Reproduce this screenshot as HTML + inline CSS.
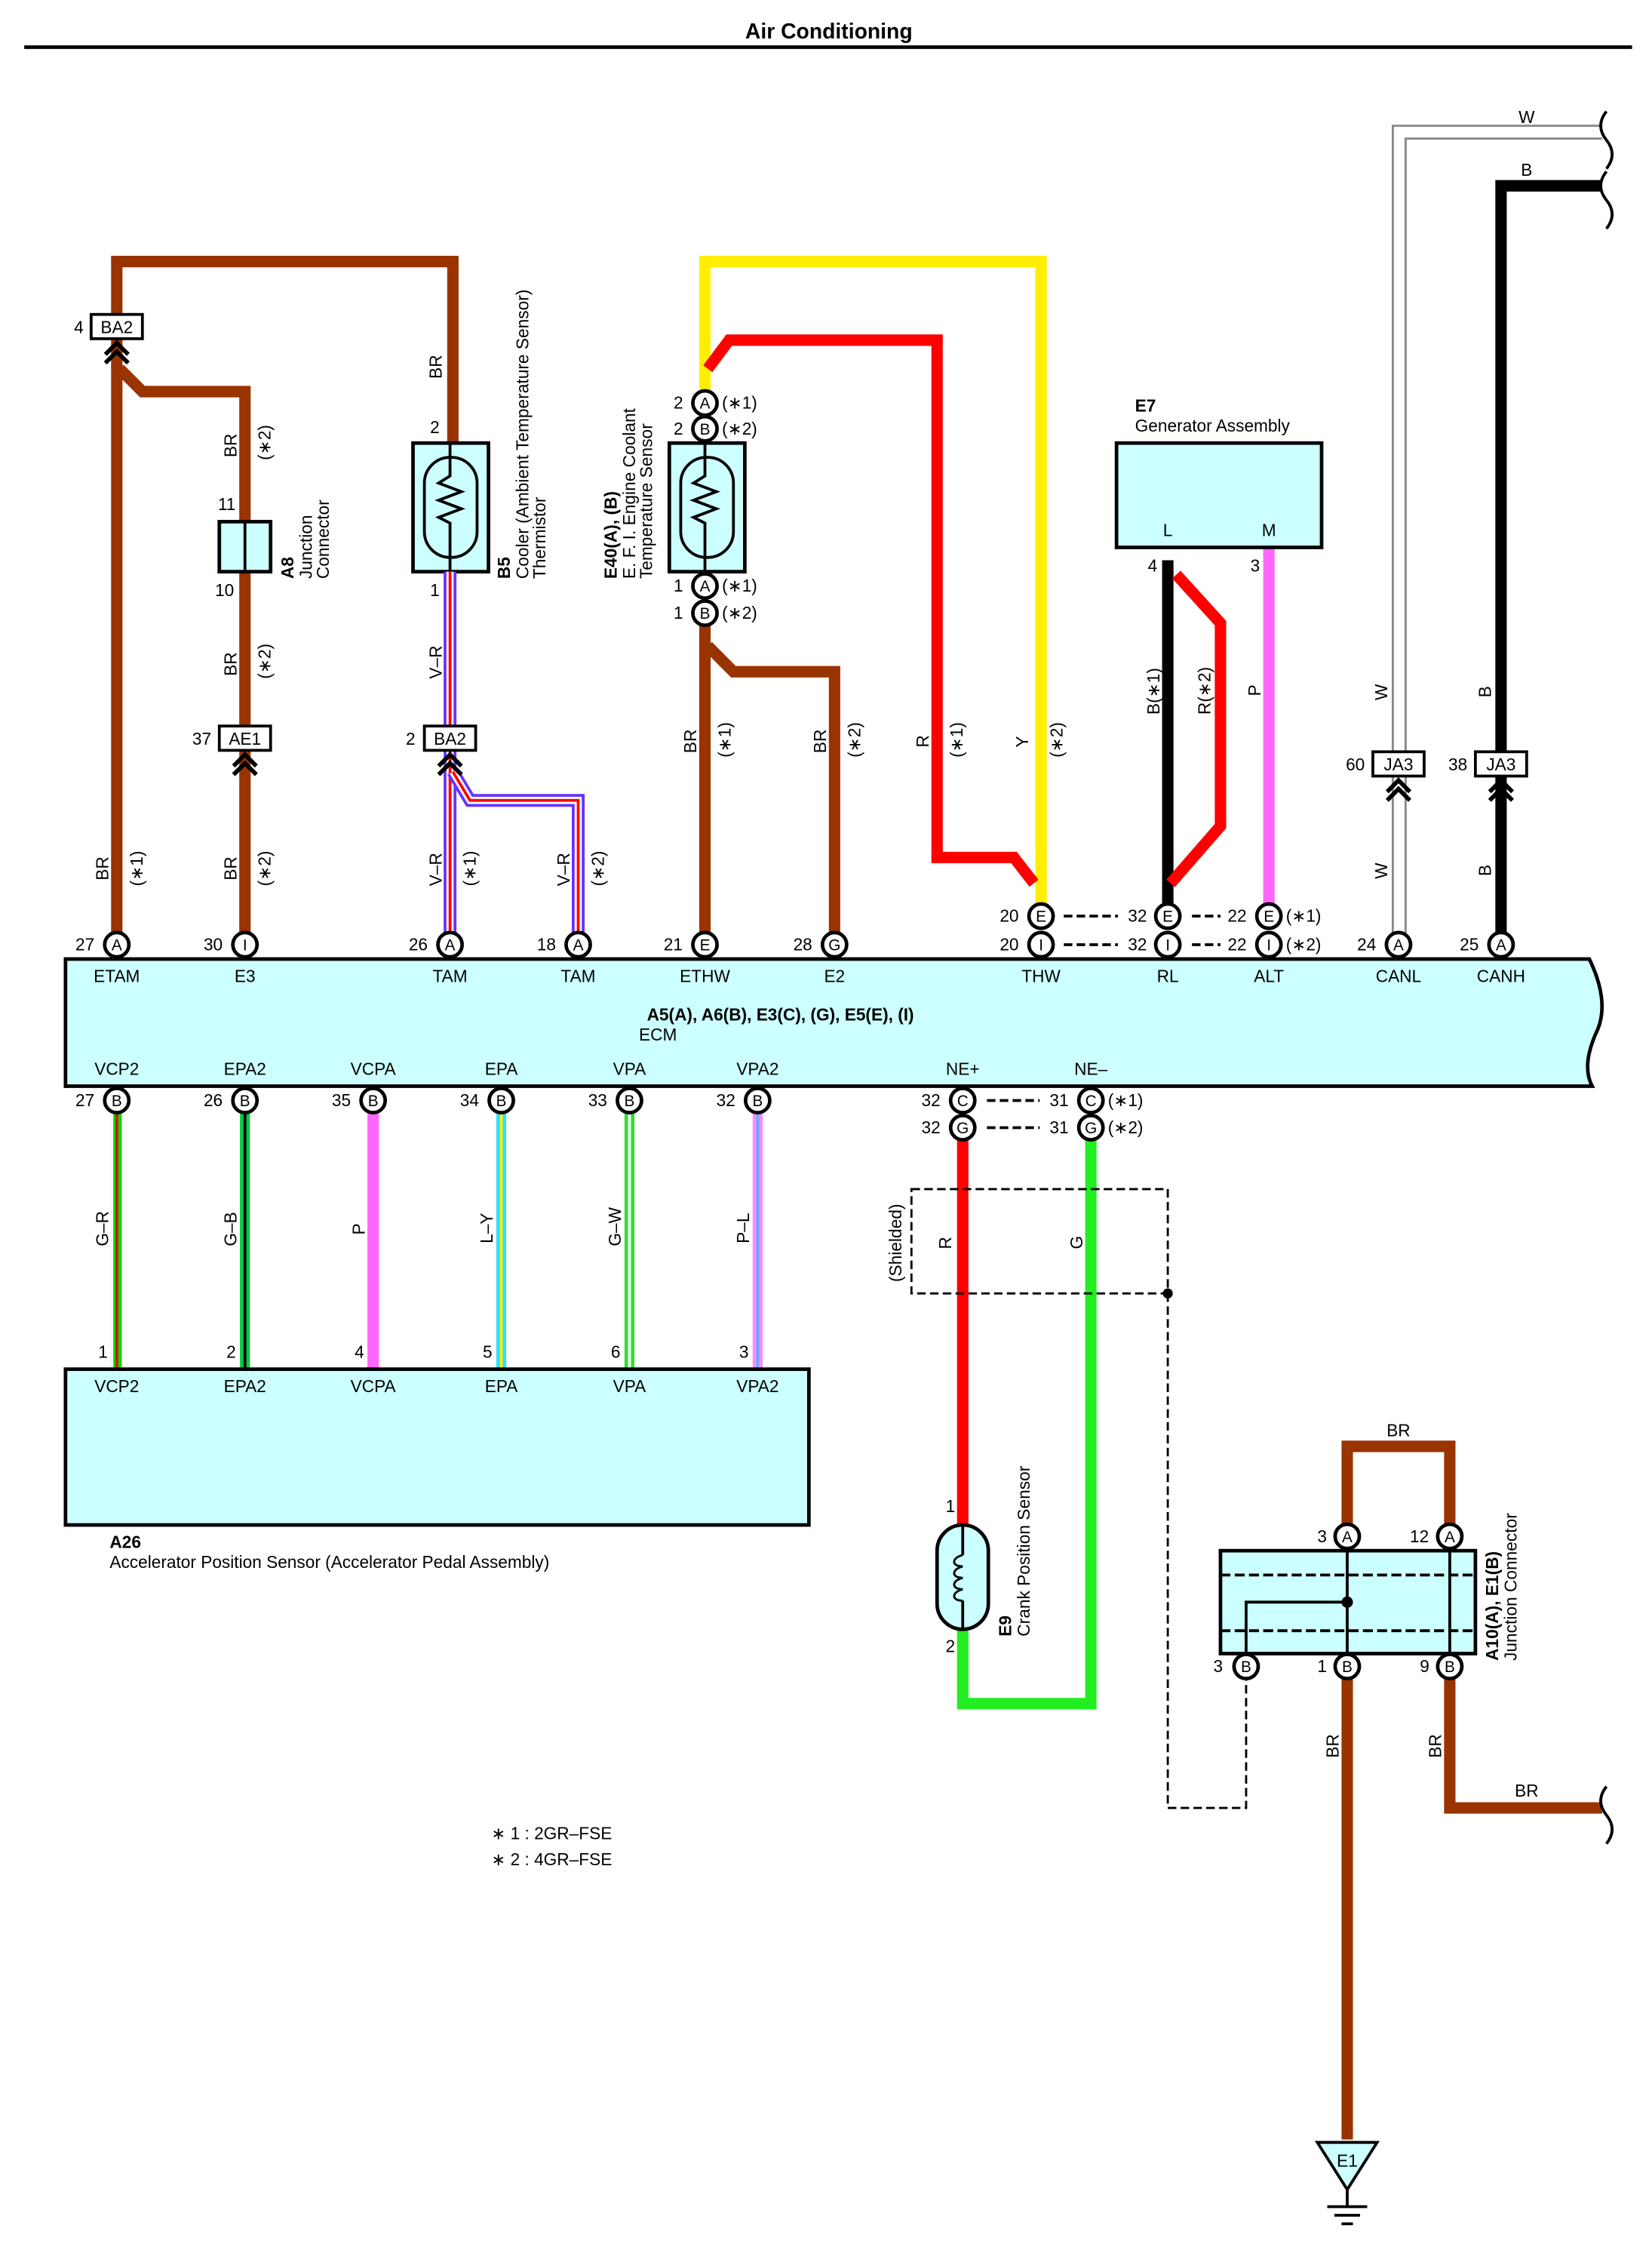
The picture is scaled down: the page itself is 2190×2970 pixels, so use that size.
<!DOCTYPE html>
<html><head><meta charset="utf-8"><style>
html,body{margin:0;padding:0;background:#fff}
svg{display:block}
text{font-family:"Liberation Sans",sans-serif;font-size:12px;fill:#000}
.b{font-weight:bold}
.pc{fill:#fff;stroke:#000;stroke-width:2.5}
.pl{font-size:11px;text-anchor:middle}
.box{fill:#ccffff;stroke:#000;stroke-width:2.5}
.br{stroke:#993300;stroke-width:8;fill:none;stroke-linejoin:miter}
</style></head><body>
<svg width="2190" height="2970" viewBox="0 0 1160 1568" preserveAspectRatio="none" xmlns="http://www.w3.org/2000/svg">
<defs>
<g id="pA"><circle r="8.5" class="pc"/><text y="4" class="pl">A</text></g>
<g id="pB"><circle r="8.5" class="pc"/><text y="4" class="pl">B</text></g>
<g id="pC"><circle r="8.5" class="pc"/><text y="4" class="pl">C</text></g>
<g id="pE"><circle r="8.5" class="pc"/><text y="4" class="pl">E</text></g>
<g id="pG"><circle r="8.5" class="pc"/><text y="4" class="pl">G</text></g>
<g id="pI"><circle r="8.5" class="pc"/><text y="4" class="pl">I</text></g>
<g id="chev"><path d="M-8,8 L0,0 L8,8 M-8,14 L0,6 L8,14" stroke="#000" stroke-width="3" fill="none"/></g>
</defs>
<text x="582" y="27" class="b" text-anchor="middle" font-size="15" style="font-size:15px">Air Conditioning</text>
<line x1="17" y1="33" x2="1146" y2="33" stroke="#000" stroke-width="2.5"/>

<!-- ETAM / B5 brown -->
<path class="br" d="M82,661 V183 H318 V310"/>
<path class="br" d="M84,258 L100,274 H172 V364"/>
<path class="br" d="M172,400 V661"/>
<!-- A8 -->
<rect x="154" y="365" width="36" height="35" class="box"/><line x1="172" y1="365" x2="172" y2="400" stroke="#000" stroke-width="2"/>
<text x="153" y="357">11</text><text x="151" y="417">10</text>
<g transform="translate(206,405) rotate(-90)"><text class="b">A8</text><text y="13">Junction</text><text y="25">Connector</text></g>
<!-- BA2 top -->
<rect x="64" y="220" width="36" height="17" fill="#fff" stroke="#000" stroke-width="2"/><text x="82" y="233" text-anchor="middle">BA2</text><text x="52" y="233">4</text>
<use href="#chev" x="82" y="240"/>
<!-- AE1 -->
<rect x="154" y="508" width="36" height="17" fill="#fff" stroke="#000" stroke-width="2"/><text x="172" y="521" text-anchor="middle">AE1</text><text x="135" y="521">37</text>
<use href="#chev" x="172" y="528"/>
<!-- B5 -->
<rect x="290" y="310" width="53" height="90" class="box"/>
<rect x="298" y="320" width="37" height="70" rx="18" fill="none" stroke="#000" stroke-width="2"/>
<path d="M316,310 V333 L308,338 L324,344 L308,350 L324,356 L308,362 L316,366 V400" fill="none" stroke="#000" stroke-width="2"/>
<text x="302" y="303">2</text><text x="302" y="417">1</text>
<g transform="translate(358,405) rotate(-90)"><text class="b">B5</text><text y="13">Cooler (Ambient Temperature Sensor)</text><text y="25">Thermistor</text></g>
<!-- V-R wires -->
<g fill="none" stroke-linejoin="miter">
<path d="M316,400 V661" stroke="#6633ff" stroke-width="9"/><path d="M316,400 V661" stroke="#fff" stroke-width="5"/><path d="M316,400 V661" stroke="#ff0000" stroke-width="2"/>
<path d="M318,540 L330,560 H406 V661" stroke="#6633ff" stroke-width="9"/><path d="M318,540 L330,560 H406 V661" stroke="#fff" stroke-width="5"/><path d="M318,540 L330,560 H406 V661" stroke="#ff0000" stroke-width="2"/>
</g>
<rect x="298" y="508" width="36" height="17" fill="#fff" stroke="#000" stroke-width="2"/><text x="316" y="521" text-anchor="middle">BA2</text><text x="285" y="521">2</text>
<use href="#chev" x="316" y="528"/>

<!-- E40 -->
<path d="M495,282 V183 H731 V641" fill="none" stroke="#ffee00" stroke-width="8"/>
<path d="M497,258 L512,238 H658 V600 H712 L726,618" fill="none" stroke="#ff0000" stroke-width="8"/>
<path class="br" d="M495,429 V661"/>
<path class="br" d="M497,452 L515,470 H586 V661"/>
<rect x="470" y="310" width="53" height="90" class="box"/>
<rect x="478" y="320" width="37" height="70" rx="18" fill="none" stroke="#000" stroke-width="2"/>
<path d="M495,310 V333 L487,338 L503,344 L487,350 L503,356 L487,362 L495,366 V400" fill="none" stroke="#000" stroke-width="2"/>
<use href="#pA" x="495" y="282"/><use href="#pB" x="495" y="300"/><use href="#pA" x="495" y="410"/><use href="#pB" x="495" y="429"/>
<text x="473" y="286">2</text><text x="473" y="304">2</text><text x="473" y="414">1</text><text x="473" y="433">1</text>
<text x="507" y="286">(∗1)</text><text x="507" y="304">(∗2)</text><text x="507" y="414">(∗1)</text><text x="507" y="433">(∗2)</text>
<g transform="translate(433,405) rotate(-90)"><text class="b">E40(A), (B)</text><text y="13">E. F. I.  Engine Coolant</text><text y="25">Temperature Sensor</text></g>

<!-- E7 -->
<path d="M820,392 V641" stroke="#000" stroke-width="8"/>
<path d="M826,402 L857,436 V578 L822,618" fill="none" stroke="#ff0000" stroke-width="8"/>
<path d="M891,383 V641" stroke="#ff66ff" stroke-width="8"/>
<rect x="784" y="310" width="144" height="73" class="box"/>
<text x="820" y="375" text-anchor="middle">L</text><text x="891" y="375" text-anchor="middle">M</text>
<text x="797" y="288" class="b">E7</text><text x="797" y="302">Generator Assembly</text>
<text x="806" y="400">4</text><text x="878" y="400">3</text>

<!-- W and B wires -->
<path d="M978,655 V88 H1125" fill="none" stroke="#888" stroke-width="1.5"/>
<path d="M987,655 V97 H1125" fill="none" stroke="#888" stroke-width="1.5"/>
<path d="M1054,661 V130 H1125" fill="none" stroke="#000" stroke-width="8"/>
<path d="M1128,78 q-8,10 0,20 q8,10 0,20" fill="none" stroke="#000" stroke-width="2"/>
<path d="M1128,120 q-8,10 0,20 q8,10 0,20" fill="none" stroke="#000" stroke-width="2"/>
<text x="1072" y="86" text-anchor="middle">W</text><text x="1072" y="123" text-anchor="middle">B</text>
<rect x="964" y="526" width="36" height="17" fill="#fff" stroke="#000" stroke-width="2"/><text x="982" y="539" text-anchor="middle">JA3</text><text x="945" y="539">60</text>
<use href="#chev" x="982" y="546"/>
<rect x="1036" y="526" width="36" height="17" fill="#fff" stroke="#000" stroke-width="2"/><text x="1054" y="539" text-anchor="middle">JA3</text><text x="1017" y="539">38</text>
<use href="#chev" x="1054" y="546"/>

<!-- vertical wire labels -->
<g font-size="12">
<text transform="translate(76,616) rotate(-90)">BR</text><text transform="translate(100,620) rotate(-90)">(∗1)</text>
<text transform="translate(166,616) rotate(-90)">BR</text><text transform="translate(190,620) rotate(-90)">(∗2)</text>
<text transform="translate(166,473) rotate(-90)">BR</text><text transform="translate(190,475) rotate(-90)">(∗2)</text>
<text transform="translate(166,320) rotate(-90)">BR</text><text transform="translate(190,322) rotate(-90)">(∗2)</text>
<text transform="translate(310,265) rotate(-90)">BR</text>
<text transform="translate(310,475) rotate(-90)">V–R</text>
<text transform="translate(310,620) rotate(-90)">V–R</text><text transform="translate(334,620) rotate(-90)">(∗1)</text>
<text transform="translate(400,620) rotate(-90)">V–R</text><text transform="translate(424,620) rotate(-90)">(∗2)</text>
<text transform="translate(489,527) rotate(-90)">BR</text><text transform="translate(513,530) rotate(-90)">(∗1)</text>
<text transform="translate(580,527) rotate(-90)">BR</text><text transform="translate(604,530) rotate(-90)">(∗2)</text>
<text transform="translate(652,523) rotate(-90)">R</text><text transform="translate(676,530) rotate(-90)">(∗1)</text>
<text transform="translate(722,523) rotate(-90)">Y</text><text transform="translate(746,530) rotate(-90)">(∗2)</text>
<text transform="translate(814,500) rotate(-90)">B(∗1)</text><text transform="translate(850,500) rotate(-90)">R(∗2)</text>
<text transform="translate(885,487) rotate(-90)">P</text>
<text transform="translate(974,490) rotate(-90)">W</text><text transform="translate(974,615) rotate(-90)">W</text>
<text transform="translate(1047,488) rotate(-90)">B</text><text transform="translate(1047,613) rotate(-90)">B</text>
</g>

<!-- ECM box -->
<path d="M46,671 H1116 Q1130,700 1122,720 Q1110,745 1118,760 H46 Z" class="box"/>
<g text-anchor="middle">
<text x="82" y="687">ETAM</text><text x="172" y="687">E3</text><text x="316" y="687">TAM</text><text x="406" y="687">TAM</text>
<text x="495" y="687">ETHW</text><text x="586" y="687">E2</text><text x="731" y="687">THW</text><text x="820" y="687">RL</text>
<text x="891" y="687">ALT</text><text x="982" y="687">CANL</text><text x="1054" y="687">CANH</text>
<text x="548" y="714" class="b">A5(A), A6(B), E3(C), (G), E5(E), (I)</text><text x="462" y="728">ECM</text>
<text x="82" y="752">VCP2</text><text x="172" y="752">EPA2</text><text x="262" y="752">VCPA</text><text x="352" y="752">EPA</text>
<text x="442" y="752">VPA</text><text x="532" y="752">VPA2</text><text x="676" y="752">NE+</text><text x="766" y="752">NE–</text>
</g>
<!-- top pins -->
<use href="#pA" x="82" y="661"/><text x="53" y="665">27</text>
<use href="#pI" x="172" y="661"/><text x="143" y="665">30</text>
<use href="#pA" x="316" y="661"/><text x="287" y="665">26</text>
<use href="#pA" x="406" y="661"/><text x="377" y="665">18</text>
<use href="#pE" x="495" y="661"/><text x="466" y="665">21</text>
<use href="#pG" x="586" y="661"/><text x="557" y="665">28</text>
<use href="#pE" x="731" y="641"/><use href="#pI" x="731" y="661"/><text x="702" y="645">20</text><text x="702" y="665">20</text>
<use href="#pE" x="820" y="641"/><use href="#pI" x="820" y="661"/><text x="792" y="645">32</text><text x="792" y="665">32</text>
<use href="#pE" x="891" y="641"/><use href="#pI" x="891" y="661"/><text x="862" y="645">22</text><text x="862" y="665">22</text>
<text x="903" y="645">(∗1)</text><text x="903" y="665">(∗2)</text>
<g stroke="#000" stroke-width="2" stroke-dasharray="6,3"><line x1="747" y1="641" x2="785" y2="641"/><line x1="747" y1="661" x2="785" y2="661"/><line x1="837" y1="641" x2="857" y2="641"/><line x1="837" y1="661" x2="857" y2="661"/></g>
<use href="#pA" x="982" y="661"/><text x="953" y="665">24</text>
<use href="#pA" x="1054" y="661"/><text x="1025" y="665">25</text>

<!-- bottom wires to A26 -->
<g fill="none">
<path d="M82,779 V958" stroke="#00dd00" stroke-width="7"/><path d="M82,779 V958" stroke="#ff0000" stroke-width="2"/><path d="M79,779 V958" stroke="#fff" stroke-width="1"/>
<path d="M172,779 V958" stroke="#00cc44" stroke-width="7"/><path d="M172,779 V958" stroke="#000" stroke-width="2"/>
<path d="M262,779 V958" stroke="#ff66ff" stroke-width="8"/>
<path d="M352,779 V958" stroke="#33ddff" stroke-width="7"/><path d="M352,779 V958" stroke="#ffee00" stroke-width="2"/>
<path d="M442,779 V958" stroke="#33dd33" stroke-width="7"/><path d="M442,779 V958" stroke="#fff" stroke-width="2"/>
<path d="M532,779 V958" stroke="#ff88ff" stroke-width="7"/><path d="M532,779 V958" stroke="#66aaff" stroke-width="2"/>
</g>
<use href="#pB" x="82" y="770"/><text x="53" y="774">27</text>
<use href="#pB" x="172" y="770"/><text x="143" y="774">26</text>
<use href="#pB" x="262" y="770"/><text x="233" y="774">35</text>
<use href="#pB" x="352" y="770"/><text x="323" y="774">34</text>
<use href="#pB" x="442" y="770"/><text x="413" y="774">33</text>
<use href="#pB" x="532" y="770"/><text x="503" y="774">32</text>
<g font-size="12">
<text transform="translate(76,872) rotate(-90)">G–R</text><text transform="translate(166,872) rotate(-90)">G–B</text>
<text transform="translate(256,864) rotate(-90)">P</text><text transform="translate(346,870) rotate(-90)">L–Y</text>
<text transform="translate(436,872) rotate(-90)">G–W</text><text transform="translate(526,870) rotate(-90)">P–L</text>
</g>
<text x="69" y="950">1</text><text x="159" y="950">2</text><text x="249" y="950">4</text><text x="339" y="950">5</text><text x="429" y="950">6</text><text x="519" y="950">3</text>
<rect x="46" y="958" width="522" height="109" class="box"/>
<g text-anchor="middle"><text x="82" y="974">VCP2</text><text x="172" y="974">EPA2</text><text x="262" y="974">VCPA</text><text x="352" y="974">EPA</text><text x="442" y="974">VPA</text><text x="532" y="974">VPA2</text></g>
<text x="77" y="1083" class="b">A26</text><text x="77" y="1097">Accelerator Position Sensor (Accelerator Pedal Assembly)</text>

<!-- E9 -->
<path d="M676,789 V1067" stroke="#ff0000" stroke-width="8"/>
<path d="M766,789 V1192 H676 V1140" fill="none" stroke="#22ee22" stroke-width="8"/>
<use href="#pC" x="676" y="770"/><use href="#pG" x="676" y="789"/><text x="647" y="774">32</text><text x="647" y="793">32</text>
<use href="#pC" x="766" y="770"/><use href="#pG" x="766" y="789"/><text x="737" y="774">31</text><text x="737" y="793">31</text>
<text x="778" y="774">(∗1)</text><text x="778" y="793">(∗2)</text>
<g stroke="#000" stroke-width="2" stroke-dasharray="6,3"><line x1="693" y1="770" x2="730" y2="770"/><line x1="693" y1="789" x2="730" y2="789"/></g>
<rect x="640" y="832" width="180" height="73" fill="none" stroke="#000" stroke-width="1.5" stroke-dasharray="6,3"/>
<path d="M820,905 V1265 H875 V1175" fill="none" stroke="#000" stroke-width="1.5" stroke-dasharray="6,3"/>
<circle cx="820" cy="905" r="3.5" fill="#000"/>
<text transform="translate(633,897) rotate(-90)">(Shielded)</text>
<text transform="translate(668,874) rotate(-90)">R</text><text transform="translate(760,874) rotate(-90)">G</text>
<rect x="658" y="1067" width="36" height="73" rx="18" class="box"/>
<path d="M676,1067 V1088 M676,1120 V1140" stroke="#000" stroke-width="2"/>
<path d="M676,1088 c-8,2 -8,8 0,8 c-8,2 -8,8 0,8 c-8,2 -8,8 0,8 c-8,2 -8,8 0,8" fill="none" stroke="#000" stroke-width="1.5"/>
<text x="664" y="1058">1</text><text x="664" y="1156">2</text>
<g transform="translate(710,1145) rotate(-90)"><text class="b">E9</text><text y="13">Crank Position Sensor</text></g>

<!-- A10 junction -->
<path class="br" d="M946,1075 V1012 H1018 V1075"/>
<text x="982" y="1005" text-anchor="middle">BR</text>
<path class="br" d="M946,1175 V1497"/>
<path class="br" d="M1018,1175 V1265 H1125"/>
<path d="M1128,1250 q-8,10 0,20 q8,10 0,20" fill="none" stroke="#000" stroke-width="2"/>
<text x="1072" y="1257" text-anchor="middle">BR</text>
<text transform="translate(940,1230) rotate(-90)">BR</text><text transform="translate(1012,1230) rotate(-90)">BR</text>
<rect x="857" y="1085" width="179" height="72" class="box"/>
<g stroke="#000" stroke-width="2" stroke-dasharray="7,3"><line x1="857" y1="1102" x2="1036" y2="1102"/><line x1="857" y1="1141" x2="1036" y2="1141"/></g>
<path d="M946,1085 V1157 M1018,1085 V1157 M875,1157 V1121 H946" fill="none" stroke="#000" stroke-width="2"/>
<circle cx="946" cy="1121" r="4" fill="#000"/>
<use href="#pA" x="946" y="1075"/><text x="925" y="1079">3</text>
<use href="#pA" x="1018" y="1075"/><text x="990" y="1079">12</text>
<use href="#pB" x="875" y="1166"/><text x="852" y="1170">3</text>
<use href="#pB" x="946" y="1166"/><text x="925" y="1170">1</text>
<use href="#pB" x="1018" y="1166"/><text x="997" y="1170">9</text>
<g transform="translate(1052,1162) rotate(-90)"><text class="b">A10(A), E1(B)</text><text y="13">Junction Connector</text></g>

<!-- ground -->
<path d="M925,1499 H967 L946,1532 Z" fill="#ccffff" stroke="#000" stroke-width="2"/>
<text x="946" y="1516" text-anchor="middle">E1</text>
<path d="M946,1532 V1544 M932,1544 H960 M937,1550 H955 M942,1556 H950" stroke="#000" stroke-width="2"/>

<text x="345" y="1287">∗ 1 : 2GR–FSE</text>
<text x="345" y="1305">∗ 2 : 4GR–FSE</text>
</svg>
</body></html>
